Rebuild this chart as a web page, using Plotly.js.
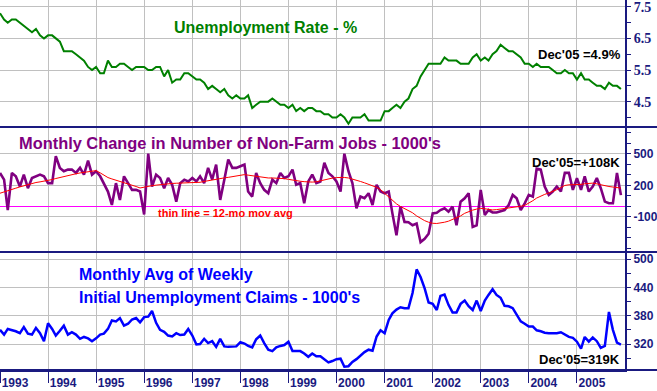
<!DOCTYPE html>
<html>
<head>
<meta charset="utf-8">
<script src="https://cdn.plot.ly/plotly-3.0.1.min.js"></script>
<style>
html,body{margin:0;padding:0;background:#fff;}
#chart{width:657px;height:391px;}
</style>
</head>
<body>
<div id="chart"></div>
<script>
// ---- Data (monthly, Jan 1993 .. Dec 2005) ----
const years = [1993,1994,1995,1996,1997,1998,1999,2000,2001,2002,2003,2004,2005];
const yearLabels = ['1993','1994','1995','1996','1997','1998','1999','2000','2001','2002','2003','2004','2005'];

// Axis tick values and labels
const rateTicks = [7.5, 6.5, 5.5, 4.5];
const rateTickText = ['7.5', '6.5', '5.5', '4.5'];
const jobsTicks = [500, 200, -100];
const jobsTickText = ['500', '200', '-100'];
const claimsTicks = [500, 440, 380, 320];
const claimsTickText = ['500', '440', '380', '320'];

// Unemployment rate, %
const unemploymentRate = [
  7.3,7.1,7.0,7.1,7.1,7.0,6.9,6.8,6.7,6.8,6.6,6.5,
  6.6,6.6,6.5,6.4,6.1,6.1,6.1,6.0,5.9,5.8,5.6,5.5,
  5.6,5.4,5.4,5.8,5.6,5.6,5.7,5.7,5.6,5.5,5.6,5.6,
  5.6,5.5,5.5,5.6,5.6,5.3,5.5,5.1,5.2,5.2,5.4,5.4,
  5.3,5.2,5.2,5.1,4.9,5.0,4.9,4.8,4.9,4.7,4.6,4.7,
  4.6,4.6,4.7,4.3,4.4,4.5,4.5,4.5,4.6,4.5,4.4,4.4,
  4.3,4.4,4.2,4.3,4.2,4.3,4.3,4.2,4.2,4.1,4.1,4.0,
  4.0,4.1,4.0,3.8,4.0,4.0,4.0,4.1,3.9,3.9,3.9,3.9,
  4.2,4.2,4.3,4.4,4.3,4.5,4.6,4.9,5.0,5.3,5.5,5.7,
  5.7,5.7,5.7,5.9,5.8,5.8,5.8,5.7,5.7,5.7,5.9,6.0,
  5.8,5.9,5.8,6.0,6.1,6.3,6.2,6.1,6.1,6.0,5.9,5.7,
  5.7,5.6,5.7,5.6,5.6,5.6,5.5,5.4,5.4,5.5,5.4,5.4,
  5.2,5.4,5.2,5.2,5.1,5.0,5.0,4.9,5.1,5.0,5.0,4.9
];

// Monthly change in non-farm payrolls, 1000's
const payrollChange = [
  319,255,-34,319,287,190,303,174,271,287,303,287,
  222,222,479,367,335,351,351,319,367,303,437,303,
  335,287,222,142,14,222,62,287,222,158,158,142,
  -76,502,190,303,271,174,271,206,46,222,255,238,
  271,238,287,222,367,255,399,62,255,447,367,367,
  383,399,142,94,319,222,158,126,255,222,319,271,
  287,351,206,222,30,238,303,222,238,415,319,287,
  238,142,502,335,222,-18,94,78,126,14,206,142,
  126,142,-66,-275,-2,-147,-150,-179,-163,-339,-307,-259,
  -66,-60,-34,-18,-50,-2,-179,46,78,126,-195,-179,
  158,-82,-34,-57,-57,-44,-34,14,110,78,-34,30,
  110,94,360,351,190,110,142,190,142,320,320,158,
  270,158,287,142,190,270,174,46,30,30,319,108
];

// 12-month moving average of payroll change, 1000's
const payrollMovAvg = [
  126,140,150,162,174,186,198,210,222,228,234,240,
  245,256,266,276,287,295,303,311,319,326,333,338,
  341,320,295,275,262,250,240,233,220,205,190,176,
  185,192,198,203,208,213,216,219,221,222,222,222,
  222,222,230,238,246,254,260,266,272,277,285,293,
  300,303,298,292,285,278,272,271,271,271,271,265,
  258,250,245,240,236,232,232,235,245,255,262,270,
  275,277,276,271,262,250,238,225,212,200,182,160,
  125,90,55,25,0,-20,-34,-60,-90,-115,-135,-150,
  -160,-162,-158,-150,-140,-125,-110,-90,-65,-48,-35,-25,
  -18,-22,-28,-33,-30,-25,-20,-18,-12,-5,2,10,
  30,55,80,100,115,128,142,160,180,200,206,206,
  206,210,216,222,222,215,205,195,190,185,180,175
];

// Monthly average of weekly initial unemployment claims, 1000's
const initialClaims = [
  350,340,352,350,347,343,356,342,340,354,343,326,
  364,352,338,348,359,340,345,340,331,335,332,326,
  332,340,342,352,370,368,375,359,363,372,375,366,
  377,378,390,365,350,346,338,336,343,339,340,352,
  338,319,320,331,322,326,314,331,315,314,315,315,
  324,321,316,313,330,338,322,308,305,313,316,318,
  325,305,305,305,300,293,300,294,294,288,281,284,
  288,289,272,273,282,288,296,303,308,306,336,349,
  343,371,385,393,398,396,396,428,478,462,438,408,
  405,392,422,425,403,387,387,405,412,400,392,412,
  390,412,424,436,424,418,401,400,396,382,368,363,
  357,357,349,347,344,343,343,343,345,340,335,333,
  325,310,335,325,334,326,312,316,388,350,323,319
];

// ---- Build x (first of each month) ----
const months = [];
years.forEach(function(y){
  for (let m = 1; m <= 12; m++) months.push(y + '-' + (m < 10 ? '0' + m : m) + '-01');
});
const yearTicks = years.map(function(y){ return y + '-01-01'; });

const NAVY = '#1a1a80';
const GRID = '#c0c0c0';
const FONT = 'Liberation Sans, Arial, sans-serif';
const SERIF = 'Liberation Serif, Times New Roman, serif';

const traces = [
  {x: months, y: unemploymentRate, xaxis: 'x', yaxis: 'y', mode: 'lines',
   line: {color: '#008000', width: 2}},
  {x: months, y: payrollChange, xaxis: 'x', yaxis: 'y2', mode: 'lines',
   line: {color: '#800080', width: 2.6}},
  {x: months, y: payrollMovAvg, xaxis: 'x', yaxis: 'y2', mode: 'lines',
   line: {color: '#ff0000', width: 1}},
  {x: months, y: initialClaims, xaxis: 'x', yaxis: 'y3', mode: 'lines',
   line: {color: '#0000ff', width: 2.5}}
];

function yAxis(domain, range, tickvals, ticktext, minorDtick, minorTick0, tickfont) {
  return {
    domain: domain, range: range, side: 'right', anchor: 'x',
    tickmode: 'array', tickvals: tickvals, ticktext: ticktext,
    showgrid: true, gridcolor: GRID, gridwidth: 1, zeroline: false,
    showline: true, linecolor: NAVY, linewidth: 2,
    ticks: 'outside', ticklen: 4, tickcolor: NAVY, tickwidth: 1,
    ticklabeloverflow: 'allow',
    tickfont: tickfont,
    minor: {tickmode: 'linear', tick0: minorTick0, dtick: minorDtick, ticks: 'outside', ticklen: 4, tickcolor: NAVY, showgrid: false},
    fixedrange: true
  };
}

const sansTick = {family: FONT, size: 12, color: NAVY, weight: 'bold'};
const serifTick = {family: SERIF, size: 14, color: NAVY, weight: 'bold'};

const ya1 = yAxis([0.657, 1], [3.7, 7.72], rateTicks, rateTickText, 0.5, 4.0, serifTick);
const ya2 = yAxis([0.319, 0.657], [-433, 757], jobsTicks, jobsTickText, 100, 0, sansTick);
ya2.zeroline = true; ya2.zerolinecolor = '#ff00ff'; ya2.zerolinewidth = 1;
const ya3 = yAxis([0, 0.319], [265, 515], claimsTicks, claimsTickText, 30, 290, sansTick);

const layout = {
  width: 657, height: 391,
  margin: {l: 0, r: 32, t: 0, b: 21, pad: 0},
  paper_bgcolor: '#ffffff', plot_bgcolor: '#ffffff',
  showlegend: false, hovermode: false,
  font: {family: FONT},
  xaxis: {
    type: 'date', range: ['1993-01-01', '2006-01-01'],
    tickmode: 'array', tickvals: yearTicks, ticktext: yearLabels,
    showgrid: true, gridcolor: GRID, gridwidth: 1,
    showline: true, linecolor: NAVY, linewidth: 2,
    ticks: 'outside', ticklen: 11, tickcolor: NAVY, tickwidth: 1,
    ticklabelshift: 15, ticklabelstandoff: -10,
    ticklabeloverflow: 'allow',
    tickfont: {family: FONT, size: 12, color: NAVY, weight: 'bold'},
    anchor: 'y3', fixedrange: true
  },
  yaxis: ya1,
  yaxis2: ya2,
  yaxis3: ya3,
  shapes: [
    {type: 'line', xref: 'paper', yref: 'paper', x0: 0, x1: 1.0512, y0: 0.657, y1: 0.657,
     line: {color: NAVY, width: 2}},
    {type: 'line', xref: 'paper', yref: 'paper', x0: 0, x1: 1.0512, y0: 0.319, y1: 0.319,
     line: {color: NAVY, width: 2}},
    {type: 'line', xref: 'paper', yref: 'paper', x0: 0, x1: 1.0512, y0: 0, y1: 0,
     line: {color: NAVY, width: 2}}
  ],
  annotations: [
    {xref: 'paper', yref: 'paper', x: 0.275, y: 0.927, xanchor: 'left', yanchor: 'middle', showarrow: false,
     text: '<b>Unemployment Rate - %</b>', font: {family: FONT, size: 16, color: '#008000'}},
    {xref: 'paper', yref: 'paper', x: 0.027, y: 0.6135, xanchor: 'left', yanchor: 'middle', showarrow: false,
     text: "<b>Monthly Change in Number of Non-Farm Jobs - 1000's</b>", font: {family: FONT, size: 16.4, color: '#800080'}},
    {xref: 'paper', yref: 'paper', x: 0.2496, y: 0.4243, xanchor: 'left', yanchor: 'middle', showarrow: false,
     text: '<b>thin line = 12-mo mov avg</b>', font: {family: FONT, size: 11, color: '#ff0000'}},
    {xref: 'paper', yref: 'paper', x: 0.123, y: 0.2568, xanchor: 'left', yanchor: 'middle', showarrow: false,
     text: '<b>Monthly Avg of Weekly</b>', font: {family: FONT, size: 16, color: '#0000ff'}},
    {xref: 'paper', yref: 'paper', x: 0.123, y: 0.197, xanchor: 'left', yanchor: 'middle', showarrow: false,
     text: "<b>Initial Unemployment Claims - 1000's</b>", font: {family: FONT, size: 16, color: '#0000ff'}},
    {xref: 'paper', yref: 'paper', x: 0.9968, y: 0.8514, xanchor: 'right', yanchor: 'middle', showarrow: false,
     text: "<b>Dec'05 =4.9%</b>", font: {family: FONT, size: 13, color: '#000000'}},
    {xref: 'paper', yref: 'paper', x: 0.9952, y: 0.562, xanchor: 'right', yanchor: 'middle', showarrow: false,
     text: "<b>Dec'05=+108K</b>", font: {family: FONT, size: 13, color: '#000000'}},
    {xref: 'paper', yref: 'paper', x: 0.9952, y: 0.0297, xanchor: 'right', yanchor: 'middle', showarrow: false,
     text: "<b>Dec'05=319K</b>", font: {family: FONT, size: 13, color: '#000000'}}
  ]
};

Plotly.newPlot('chart', traces, layout, {staticPlot: true, displayModeBar: false});
</script>
</body>
</html>
